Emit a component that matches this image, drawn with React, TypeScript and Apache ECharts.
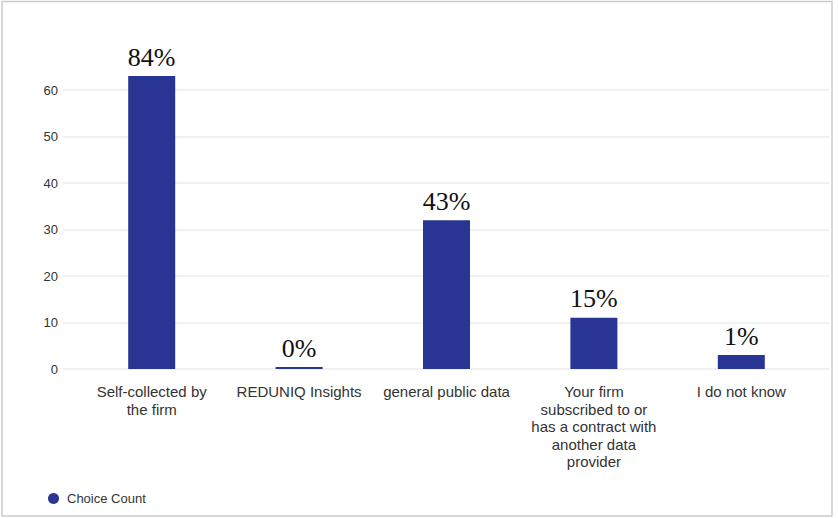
import React, { useEffect, useRef } from "react";
import * as echarts from "echarts";

// Survey answers: where the firm's data comes from
const categories = [
  "Self-collected by\nthe firm",
  "REDUNIQ Insights",
  "general public data",
  "Your firm\nsubscribed to or\nhas a contract with\nanother data\nprovider",
  "I do not know",
];
const choiceCounts = [63, 0, 32, 11, 3];
const shareLabels = ["84%", "0%", "43%", "15%", "1%"];
const seriesName = "Choice Count";

const BAR_COLOR = "#283593";
const SANS = "'Liberation Sans', Arial, sans-serif";
const SERIF = "'Liberation Serif', 'Times New Roman', serif";

export default function App() {
  const ref = useRef<HTMLDivElement>(null);

  useEffect(() => {
    if (!ref.current) return;
    const chart = echarts.init(ref.current, undefined, { renderer: "svg" });
    chart.setOption({
      animation: false,
      backgroundColor: "#ffffff",
      grid: [
        // value scale with the horizontal guide lines
        { left: 63, right: 9, top: 90, bottom: 149 },
        // bars
        { left: 78, right: 23, top: 43.5, bottom: 149 },
      ],
      xAxis: [
        { gridIndex: 0, type: "value", show: false, min: 0, max: 1 },
        {
          gridIndex: 1,
          type: "category",
          data: categories,
          axisLine: { show: false },
          axisTick: { show: false },
          axisLabel: {
            interval: 0,
            margin: 14,
            color: "#333333",
            fontFamily: SANS,
            fontSize: 15,
            lineHeight: 17.5,
            align: "center",
          },
        },
      ],
      yAxis: [
        {
          gridIndex: 0,
          type: "value",
          min: 0,
          max: 60,
          interval: 10,
          axisLine: { show: false },
          axisTick: { show: false },
          axisLabel: {
            margin: 5,
            color: "#333333",
            fontFamily: SANS,
            fontSize: 13,
          },
          splitLine: { lineStyle: { color: "#ececec", width: 1.5 } },
        },
        { gridIndex: 1, type: "value", min: 0, max: 70, show: false },
      ],
      legend: {
        left: 43,
        top: 487,
        icon: "circle",
        itemWidth: 11,
        itemHeight: 11,
        itemGap: 10,
        data: [seriesName],
        textStyle: {
          color: "#333333",
          fontFamily: SANS,
          fontSize: 13,
          padding: [0, 0, 0, 3],
        },
      },
      series: [
        {
          name: seriesName,
          type: "bar",
          xAxisIndex: 1,
          yAxisIndex: 1,
          data: choiceCounts,
          barWidth: 47,
          barMinHeight: 2,
          itemStyle: { color: BAR_COLOR },
          label: {
            show: true,
            position: "top",
            distance: 6,
            color: "#111111",
            fontFamily: SERIF,
            fontSize: 26,
            formatter: (p: any) => shareLabels[p.dataIndex],
          },
        },
      ],
      graphic: [
        {
          type: "rect",
          shape: { x: 2, y: 1.5, width: 830, height: 514.5 },
          style: { fill: "none", stroke: "#cccccc", lineWidth: 1.5 },
          silent: true,
        },
      ],
    });
    return () => chart.dispose();
  }, []);

  return (
    <div
      ref={ref}
      style={{ position: "fixed", left: 0, top: 0, width: 838, height: 518 }}
    />
  );
}
